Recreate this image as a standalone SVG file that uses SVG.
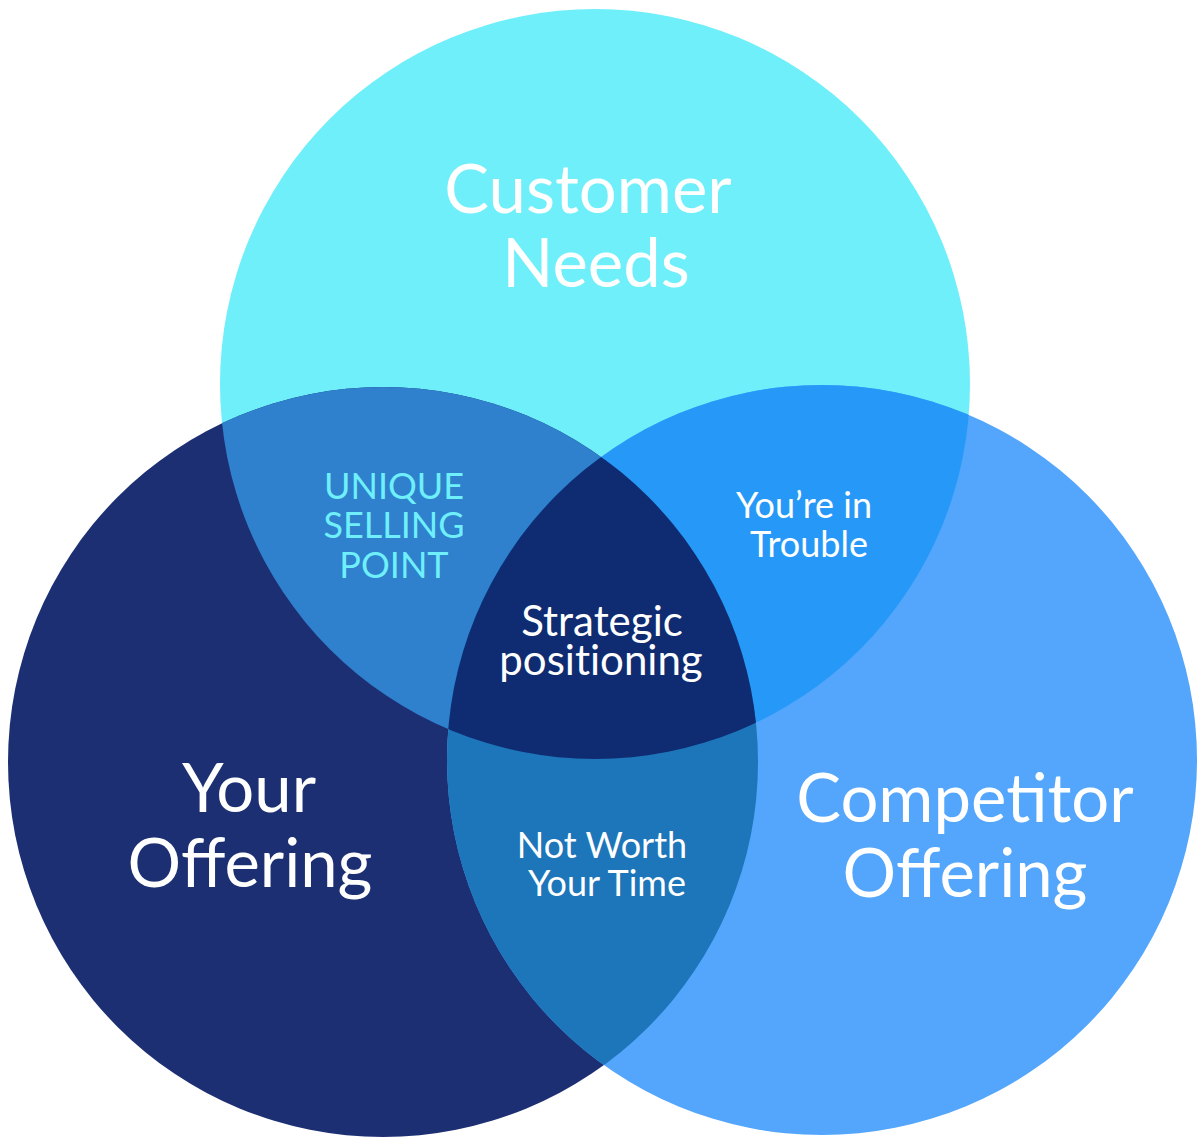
<svg xmlns="http://www.w3.org/2000/svg" width="1200" height="1148" viewBox="0 0 1200 1148">
  <style>
    .lbl { font-family: Lato, "Open Sans", "Liberation Sans", sans-serif; fill: #ffffff; text-anchor: middle; }
    .big { font-size: 67px; }
    .mid { font-size: 42px; font-variant-ligatures: none; }
    .small { font-size: 36px; font-variant-ligatures: none; }
    .usp { font-size: 36px; fill: #6EEFFA; }
  </style>
  <defs>
    <circle id="cTop" cx="595" cy="384" r="375"/>
    <circle id="cLeft" cx="383" cy="762" r="375"/>
    <circle id="cRight" cx="822" cy="760" r="375"/>
    <clipPath id="clipTop"><use href="#cTop"/></clipPath>
    <clipPath id="clipLeft"><use href="#cLeft"/></clipPath>
  </defs>
  <rect width="1200" height="1148" fill="#ffffff"/>

  <g id="customer-needs">
    <use href="#cTop" fill="#6EEFFA"/>
  </g>
  <g id="your-offering">
    <use href="#cLeft" fill="#1C2F73"/>
  </g>
  <g id="competitor-offering">
    <use href="#cRight" fill="#53A6FC"/>
  </g>
  <g id="unique-selling-point">
    <use href="#cLeft" fill="#2F80CD" clip-path="url(#clipTop)"/>
  </g>
  <g id="youre-in-trouble">
    <use href="#cRight" fill="#2699F8" clip-path="url(#clipTop)"/>
  </g>
  <g id="not-worth-your-time">
    <use href="#cRight" fill="#1D75BA" clip-path="url(#clipLeft)"/>
  </g>
  <g id="strategic-positioning">
    <g clip-path="url(#clipTop)">
      <use href="#cRight" fill="#0F2C72" clip-path="url(#clipLeft)"/>
    </g>
  </g>

  <g id="labels">
    <text class="lbl big"><tspan x="588" y="213">Customer</tspan><tspan x="596" y="287">Needs</tspan></text>
    <text class="lbl usp"><tspan x="394" y="499">UNIQUE</tspan><tspan x="394" y="538">SELLING</tspan><tspan x="394" y="578">POINT</tspan></text>
    <text class="lbl small"><tspan x="804" y="518">You’re in</tspan><tspan x="809" y="557">Trouble</tspan></text>
    <text class="lbl mid"><tspan x="602" y="636">Strategic</tspan><tspan x="601" y="675">positioning</tspan></text>
    <text class="lbl small"><tspan x="602" y="858">Not Worth</tspan><tspan x="607" y="896">Your Time</tspan></text>
    <text class="lbl big"><tspan x="249" y="812">Your</tspan><tspan x="250" y="887">Offering</tspan></text>
    <text class="lbl big"><tspan x="965" y="822">Competitor</tspan><tspan x="965" y="897">Offering</tspan></text>
  </g>
</svg>
